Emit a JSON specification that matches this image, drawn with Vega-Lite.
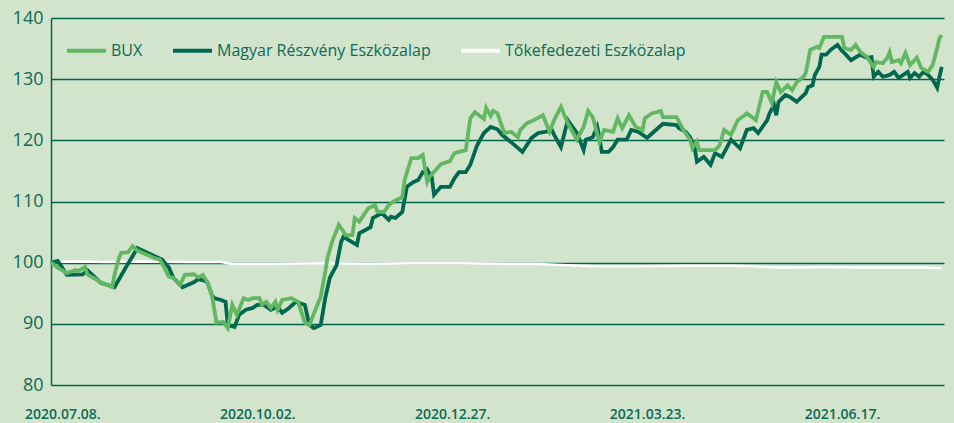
{
"$schema": "https://vega.github.io/schema/vega-lite/v6.json",
"width": 893, "height": 367,
"autosize": "none",
"padding": {"left": 51, "top": 18, "right": 10, "bottom": 38},
"background": "#d2e4cc",
"config": {"view": {"stroke": null}, "font": "Open Sans"},
"data": {"values": [
{"date":"2020-07-03","series":"BUX","value":100},
{"date":"2020-07-06","series":"BUX","value":99.2},
{"date":"2020-07-10","series":"BUX","value":98.3},
{"date":"2020-07-14","series":"BUX","value":98.8},
{"date":"2020-07-15","series":"BUX","value":98.6},
{"date":"2020-07-18","series":"BUX","value":99.3},
{"date":"2020-07-19","series":"BUX","value":98.1},
{"date":"2020-07-25","series":"BUX","value":96.8},
{"date":"2020-07-30","series":"BUX","value":96.0},
{"date":"2020-07-31","series":"BUX","value":98.0},
{"date":"2020-08-02","series":"BUX","value":100.8},
{"date":"2020-08-03","series":"BUX","value":101.6},
{"date":"2020-08-06","series":"BUX","value":101.7},
{"date":"2020-08-08","series":"BUX","value":102.7},
{"date":"2020-08-10","series":"BUX","value":102.0},
{"date":"2020-08-18","series":"BUX","value":100.7},
{"date":"2020-08-20","series":"BUX","value":100.5},
{"date":"2020-08-22","series":"BUX","value":99.2},
{"date":"2020-08-24","series":"BUX","value":97.7},
{"date":"2020-08-26","series":"BUX","value":97.5},
{"date":"2020-08-29","series":"BUX","value":96.4},
{"date":"2020-08-31","series":"BUX","value":98.0},
{"date":"2020-09-04","series":"BUX","value":98.1},
{"date":"2020-09-06","series":"BUX","value":97.6},
{"date":"2020-09-08","series":"BUX","value":98.0},
{"date":"2020-09-10","series":"BUX","value":96.8},
{"date":"2020-09-12","series":"BUX","value":94.7},
{"date":"2020-09-14","series":"BUX","value":90.2},
{"date":"2020-09-17","series":"BUX","value":90.3},
{"date":"2020-09-19","series":"BUX","value":89.3},
{"date":"2020-09-21","series":"BUX","value":93.1},
{"date":"2020-09-23","series":"BUX","value":91.5},
{"date":"2020-09-26","series":"BUX","value":94.2},
{"date":"2020-09-28","series":"BUX","value":93.9},
{"date":"2020-09-30","series":"BUX","value":94.2},
{"date":"2020-10-03","series":"BUX","value":94.2},
{"date":"2020-10-04","series":"BUX","value":93.1},
{"date":"2020-10-06","series":"BUX","value":93.6},
{"date":"2020-10-08","series":"BUX","value":92.6},
{"date":"2020-10-10","series":"BUX","value":93.6},
{"date":"2020-10-11","series":"BUX","value":92.3},
{"date":"2020-10-13","series":"BUX","value":93.9},
{"date":"2020-10-17","series":"BUX","value":94.2},
{"date":"2020-10-20","series":"BUX","value":93.6},
{"date":"2020-10-23","series":"BUX","value":90.2},
{"date":"2020-10-25","series":"BUX","value":89.8},
{"date":"2020-10-28","series":"BUX","value":92.6},
{"date":"2020-10-30","series":"BUX","value":94.4},
{"date":"2020-11-01","series":"BUX","value":98.5},
{"date":"2020-11-02","series":"BUX","value":100.8},
{"date":"2020-11-04","series":"BUX","value":103.4},
{"date":"2020-11-07","series":"BUX","value":106.2},
{"date":"2020-11-09","series":"BUX","value":105.1},
{"date":"2020-11-10","series":"BUX","value":104.5},
{"date":"2020-11-13","series":"BUX","value":104.5},
{"date":"2020-11-14","series":"BUX","value":107.3},
{"date":"2020-11-16","series":"BUX","value":106.7},
{"date":"2020-11-20","series":"BUX","value":108.9},
{"date":"2020-11-23","series":"BUX","value":109.4},
{"date":"2020-11-24","series":"BUX","value":108.3},
{"date":"2020-11-27","series":"BUX","value":108.3},
{"date":"2020-11-29","series":"BUX","value":109.4},
{"date":"2020-12-01","series":"BUX","value":110.0},
{"date":"2020-12-05","series":"BUX","value":110.7},
{"date":"2020-12-06","series":"BUX","value":113.5},
{"date":"2020-12-09","series":"BUX","value":117.1},
{"date":"2020-12-12","series":"BUX","value":117.1},
{"date":"2020-12-14","series":"BUX","value":117.6},
{"date":"2020-12-16","series":"BUX","value":113.2},
{"date":"2020-12-17","series":"BUX","value":114.0},
{"date":"2020-12-22","series":"BUX","value":116.1},
{"date":"2020-12-26","series":"BUX","value":116.6},
{"date":"2020-12-28","series":"BUX","value":117.9},
{"date":"2021-01-02","series":"BUX","value":118.4},
{"date":"2021-01-04","series":"BUX","value":123.6},
{"date":"2021-01-06","series":"BUX","value":124.6},
{"date":"2021-01-10","series":"BUX","value":123.5},
{"date":"2021-01-11","series":"BUX","value":125.3},
{"date":"2021-01-13","series":"BUX","value":124.0},
{"date":"2021-01-14","series":"BUX","value":124.8},
{"date":"2021-01-16","series":"BUX","value":124.4},
{"date":"2021-01-19","series":"BUX","value":121.2},
{"date":"2021-01-22","series":"BUX","value":121.4},
{"date":"2021-01-25","series":"BUX","value":120.5},
{"date":"2021-01-26","series":"BUX","value":121.7},
{"date":"2021-01-29","series":"BUX","value":122.8},
{"date":"2021-02-01","series":"BUX","value":123.3},
{"date":"2021-02-05","series":"BUX","value":124.1},
{"date":"2021-02-08","series":"BUX","value":121.4},
{"date":"2021-02-10","series":"BUX","value":123.3},
{"date":"2021-02-13","series":"BUX","value":125.5},
{"date":"2021-02-16","series":"BUX","value":122.8},
{"date":"2021-02-20","series":"BUX","value":120.1},
{"date":"2021-02-23","series":"BUX","value":122.2},
{"date":"2021-02-25","series":"BUX","value":124.8},
{"date":"2021-02-27","series":"BUX","value":123.8},
{"date":"2021-03-02","series":"BUX","value":119.7},
{"date":"2021-03-04","series":"BUX","value":121.7},
{"date":"2021-03-08","series":"BUX","value":121.4},
{"date":"2021-03-10","series":"BUX","value":123.6},
{"date":"2021-03-12","series":"BUX","value":122.0},
{"date":"2021-03-15","series":"BUX","value":124.1},
{"date":"2021-03-18","series":"BUX","value":122.2},
{"date":"2021-03-21","series":"BUX","value":121.7},
{"date":"2021-03-22","series":"BUX","value":123.6},
{"date":"2021-03-25","series":"BUX","value":124.4},
{"date":"2021-03-29","series":"BUX","value":124.8},
{"date":"2021-03-30","series":"BUX","value":123.8},
{"date":"2021-04-05","series":"BUX","value":123.8},
{"date":"2021-04-08","series":"BUX","value":121.7},
{"date":"2021-04-11","series":"BUX","value":120.1},
{"date":"2021-04-12","series":"BUX","value":118.7},
{"date":"2021-04-14","series":"BUX","value":119.8},
{"date":"2021-04-15","series":"BUX","value":118.4},
{"date":"2021-04-22","series":"BUX","value":118.4},
{"date":"2021-04-24","series":"BUX","value":119.2},
{"date":"2021-04-26","series":"BUX","value":121.7},
{"date":"2021-04-29","series":"BUX","value":120.9},
{"date":"2021-05-02","series":"BUX","value":123.3},
{"date":"2021-05-05","series":"BUX","value":124.1},
{"date":"2021-05-06","series":"BUX","value":124.4},
{"date":"2021-05-09","series":"BUX","value":123.6},
{"date":"2021-05-10","series":"BUX","value":123.3},
{"date":"2021-05-13","series":"BUX","value":127.9},
{"date":"2021-05-15","series":"BUX","value":127.9},
{"date":"2021-05-17","series":"BUX","value":126.1},
{"date":"2021-05-19","series":"BUX","value":129.5},
{"date":"2021-05-21","series":"BUX","value":127.9},
{"date":"2021-05-24","series":"BUX","value":129.0},
{"date":"2021-05-26","series":"BUX","value":128.2},
{"date":"2021-05-28","series":"BUX","value":129.5},
{"date":"2021-05-31","series":"BUX","value":130.4},
{"date":"2021-06-01","series":"BUX","value":131.0},
{"date":"2021-06-03","series":"BUX","value":134.8},
{"date":"2021-06-06","series":"BUX","value":135.3},
{"date":"2021-06-07","series":"BUX","value":135.1},
{"date":"2021-06-09","series":"BUX","value":136.9},
{"date":"2021-06-17","series":"BUX","value":136.9},
{"date":"2021-06-18","series":"BUX","value":135.1},
{"date":"2021-06-21","series":"BUX","value":134.8},
{"date":"2021-06-23","series":"BUX","value":135.6},
{"date":"2021-06-25","series":"BUX","value":134.5},
{"date":"2021-06-28","series":"BUX","value":133.6},
{"date":"2021-07-01","series":"BUX","value":132.0},
{"date":"2021-07-02","series":"BUX","value":132.8},
{"date":"2021-07-05","series":"BUX","value":132.6},
{"date":"2021-07-07","series":"BUX","value":133.5},
{"date":"2021-07-08","series":"BUX","value":134.4},
{"date":"2021-07-09","series":"BUX","value":132.8},
{"date":"2021-07-12","series":"BUX","value":133.1},
{"date":"2021-07-13","series":"BUX","value":132.6},
{"date":"2021-07-15","series":"BUX","value":134.3},
{"date":"2021-07-17","series":"BUX","value":132.3},
{"date":"2021-07-20","series":"BUX","value":133.5},
{"date":"2021-07-22","series":"BUX","value":131.8},
{"date":"2021-07-25","series":"BUX","value":131.2},
{"date":"2021-07-27","series":"BUX","value":132.3},
{"date":"2021-07-29","series":"BUX","value":135.1},
{"date":"2021-07-30","series":"BUX","value":136.7},
{"date":"2021-07-31","series":"BUX","value":137.2},
{"date":"2020-07-03","series":"Magyar Részvény Eszközalap","value":100},
{"date":"2020-07-06","series":"Magyar Részvény Eszközalap","value":100.3},
{"date":"2020-07-10","series":"Magyar Részvény Eszközalap","value":98.0},
{"date":"2020-07-17","series":"Magyar Részvény Eszközalap","value":98.1},
{"date":"2020-07-19","series":"Magyar Részvény Eszközalap","value":98.8},
{"date":"2020-07-25","series":"Magyar Részvény Eszközalap","value":96.7},
{"date":"2020-07-31","series":"Magyar Részvény Eszközalap","value":96.0},
{"date":"2020-08-05","series":"Magyar Részvény Eszközalap","value":99.2},
{"date":"2020-08-09","series":"Magyar Részvény Eszközalap","value":101.7},
{"date":"2020-08-10","series":"Magyar Részvény Eszközalap","value":102.4},
{"date":"2020-08-21","series":"Magyar Részvény Eszközalap","value":100.5},
{"date":"2020-08-24","series":"Magyar Részvény Eszközalap","value":99.2},
{"date":"2020-08-26","series":"Magyar Részvény Eszközalap","value":97.5},
{"date":"2020-08-30","series":"Magyar Részvény Eszközalap","value":96.0},
{"date":"2020-09-04","series":"Magyar Részvény Eszközalap","value":96.8},
{"date":"2020-09-06","series":"Magyar Részvény Eszközalap","value":97.3},
{"date":"2020-09-09","series":"Magyar Részvény Eszközalap","value":97.0},
{"date":"2020-09-10","series":"Magyar Részvény Eszközalap","value":96.8},
{"date":"2020-09-12","series":"Magyar Részvény Eszközalap","value":94.7},
{"date":"2020-09-13","series":"Magyar Részvény Eszközalap","value":94.2},
{"date":"2020-09-16","series":"Magyar Részvény Eszközalap","value":93.9},
{"date":"2020-09-18","series":"Magyar Részvény Eszközalap","value":93.6},
{"date":"2020-09-19","series":"Magyar Részvény Eszközalap","value":89.8},
{"date":"2020-09-22","series":"Magyar Részvény Eszközalap","value":89.5},
{"date":"2020-09-24","series":"Magyar Részvény Eszközalap","value":91.5},
{"date":"2020-09-27","series":"Magyar Részvény Eszközalap","value":92.3},
{"date":"2020-09-30","series":"Magyar Részvény Eszközalap","value":92.6},
{"date":"2020-10-02","series":"Magyar Részvény Eszközalap","value":93.1},
{"date":"2020-10-05","series":"Magyar Részvény Eszközalap","value":93.1},
{"date":"2020-10-08","series":"Magyar Részvény Eszközalap","value":92.3},
{"date":"2020-10-11","series":"Magyar Részvény Eszközalap","value":92.8},
{"date":"2020-10-13","series":"Magyar Részvény Eszközalap","value":91.8},
{"date":"2020-10-16","series":"Magyar Részvény Eszközalap","value":92.6},
{"date":"2020-10-19","series":"Magyar Részvény Eszközalap","value":93.6},
{"date":"2020-10-23","series":"Magyar Részvény Eszközalap","value":93.1},
{"date":"2020-10-25","series":"Magyar Részvény Eszközalap","value":89.8},
{"date":"2020-10-27","series":"Magyar Részvény Eszközalap","value":89.3},
{"date":"2020-10-30","series":"Magyar Részvény Eszközalap","value":89.8},
{"date":"2020-11-01","series":"Magyar Részvény Eszközalap","value":94.2},
{"date":"2020-11-03","series":"Magyar Részvény Eszközalap","value":97.5},
{"date":"2020-11-06","series":"Magyar Részvény Eszközalap","value":99.6},
{"date":"2020-11-08","series":"Magyar Részvény Eszközalap","value":103.4},
{"date":"2020-11-09","series":"Magyar Részvény Eszközalap","value":104.2},
{"date":"2020-11-15","series":"Magyar Részvény Eszközalap","value":102.9},
{"date":"2020-11-16","series":"Magyar Részvény Eszközalap","value":104.8},
{"date":"2020-11-21","series":"Magyar Részvény Eszközalap","value":105.8},
{"date":"2020-11-22","series":"Magyar Részvény Eszközalap","value":107.3},
{"date":"2020-11-26","series":"Magyar Részvény Eszközalap","value":108.1},
{"date":"2020-11-29","series":"Magyar Részvény Eszközalap","value":107.0},
{"date":"2020-11-30","series":"Magyar Részvény Eszközalap","value":107.5},
{"date":"2020-12-02","series":"Magyar Részvény Eszközalap","value":107.3},
{"date":"2020-12-05","series":"Magyar Részvény Eszközalap","value":108.3},
{"date":"2020-12-07","series":"Magyar Részvény Eszközalap","value":112.4},
{"date":"2020-12-10","series":"Magyar Részvény Eszközalap","value":113.2},
{"date":"2020-12-12","series":"Magyar Részvény Eszközalap","value":113.5},
{"date":"2020-12-14","series":"Magyar Részvény Eszközalap","value":114.8},
{"date":"2020-12-15","series":"Magyar Részvény Eszközalap","value":114.7},
{"date":"2020-12-16","series":"Magyar Részvény Eszközalap","value":115.2},
{"date":"2020-12-18","series":"Magyar Részvény Eszközalap","value":114.0},
{"date":"2020-12-19","series":"Magyar Részvény Eszközalap","value":111.1},
{"date":"2020-12-22","series":"Magyar Részvény Eszközalap","value":112.4},
{"date":"2020-12-26","series":"Magyar Részvény Eszközalap","value":112.4},
{"date":"2020-12-28","series":"Magyar Részvény Eszközalap","value":113.8},
{"date":"2020-12-30","series":"Magyar Részvény Eszközalap","value":114.8},
{"date":"2021-01-02","series":"Magyar Részvény Eszközalap","value":114.8},
{"date":"2021-01-04","series":"Magyar Részvény Eszközalap","value":116.0},
{"date":"2021-01-07","series":"Magyar Részvény Eszközalap","value":119.2},
{"date":"2021-01-10","series":"Magyar Részvény Eszközalap","value":121.2},
{"date":"2021-01-13","series":"Magyar Részvény Eszközalap","value":122.2},
{"date":"2021-01-16","series":"Magyar Részvény Eszközalap","value":121.8},
{"date":"2021-01-18","series":"Magyar Részvény Eszközalap","value":120.9},
{"date":"2021-01-22","series":"Magyar Részvény Eszközalap","value":119.7},
{"date":"2021-01-27","series":"Magyar Részvény Eszközalap","value":118.1},
{"date":"2021-01-31","series":"Magyar Részvény Eszközalap","value":120.4},
{"date":"2021-02-03","series":"Magyar Részvény Eszközalap","value":121.2},
{"date":"2021-02-06","series":"Magyar Részvény Eszközalap","value":121.4},
{"date":"2021-02-09","series":"Magyar Részvény Eszközalap","value":121.7},
{"date":"2021-02-10","series":"Magyar Részvény Eszközalap","value":120.9},
{"date":"2021-02-13","series":"Magyar Részvény Eszközalap","value":118.9},
{"date":"2021-02-16","series":"Magyar Részvény Eszközalap","value":123.3},
{"date":"2021-02-20","series":"Magyar Részvény Eszközalap","value":121.2},
{"date":"2021-02-23","series":"Magyar Részvény Eszközalap","value":118.4},
{"date":"2021-02-24","series":"Magyar Részvény Eszközalap","value":120.1},
{"date":"2021-02-27","series":"Magyar Részvény Eszközalap","value":120.5},
{"date":"2021-03-01","series":"Magyar Részvény Eszközalap","value":122.2},
{"date":"2021-03-02","series":"Magyar Részvény Eszközalap","value":120.4},
{"date":"2021-03-03","series":"Magyar Részvény Eszközalap","value":118.1},
{"date":"2021-03-06","series":"Magyar Részvény Eszközalap","value":118.1},
{"date":"2021-03-08","series":"Magyar Részvény Eszközalap","value":118.9},
{"date":"2021-03-10","series":"Magyar Részvény Eszközalap","value":120.1},
{"date":"2021-03-14","series":"Magyar Részvény Eszközalap","value":120.1},
{"date":"2021-03-16","series":"Magyar Részvény Eszközalap","value":121.7},
{"date":"2021-03-19","series":"Magyar Részvény Eszközalap","value":121.4},
{"date":"2021-03-23","series":"Magyar Részvény Eszközalap","value":120.4},
{"date":"2021-03-26","series":"Magyar Részvény Eszközalap","value":121.4},
{"date":"2021-03-30","series":"Magyar Részvény Eszközalap","value":122.7},
{"date":"2021-04-05","series":"Magyar Részvény Eszközalap","value":122.5},
{"date":"2021-04-06","series":"Magyar Részvény Eszközalap","value":122.0},
{"date":"2021-04-09","series":"Magyar Részvény Eszközalap","value":121.4},
{"date":"2021-04-11","series":"Magyar Részvény Eszközalap","value":120.5},
{"date":"2021-04-13","series":"Magyar Részvény Eszközalap","value":118.7},
{"date":"2021-04-14","series":"Magyar Részvény Eszközalap","value":116.5},
{"date":"2021-04-17","series":"Magyar Részvény Eszközalap","value":117.3},
{"date":"2021-04-20","series":"Magyar Részvény Eszközalap","value":116.0},
{"date":"2021-04-22","series":"Magyar Részvény Eszközalap","value":117.9},
{"date":"2021-04-25","series":"Magyar Részvény Eszközalap","value":117.3},
{"date":"2021-04-27","series":"Magyar Részvény Eszközalap","value":118.7},
{"date":"2021-04-29","series":"Magyar Részvény Eszközalap","value":120.1},
{"date":"2021-05-03","series":"Magyar Részvény Eszközalap","value":118.7},
{"date":"2021-05-06","series":"Magyar Részvény Eszközalap","value":121.7},
{"date":"2021-05-09","series":"Magyar Részvény Eszközalap","value":122.0},
{"date":"2021-05-11","series":"Magyar Részvény Eszközalap","value":121.2},
{"date":"2021-05-15","series":"Magyar Részvény Eszközalap","value":123.3},
{"date":"2021-05-16","series":"Magyar Részvény Eszközalap","value":124.4},
{"date":"2021-05-18","series":"Magyar Részvény Eszközalap","value":125.8},
{"date":"2021-05-19","series":"Magyar Részvény Eszközalap","value":124.1},
{"date":"2021-05-20","series":"Magyar Részvény Eszközalap","value":126.3},
{"date":"2021-05-23","series":"Magyar Részvény Eszközalap","value":127.4},
{"date":"2021-05-25","series":"Magyar Részvény Eszközalap","value":127.1},
{"date":"2021-05-28","series":"Magyar Részvény Eszközalap","value":126.3},
{"date":"2021-06-01","series":"Magyar Részvény Eszközalap","value":127.7},
{"date":"2021-06-02","series":"Magyar Részvény Eszközalap","value":128.7},
{"date":"2021-06-04","series":"Magyar Részvény Eszközalap","value":129.0},
{"date":"2021-06-05","series":"Magyar Részvény Eszközalap","value":130.7},
{"date":"2021-06-07","series":"Magyar Részvény Eszközalap","value":132.0},
{"date":"2021-06-08","series":"Magyar Részvény Eszközalap","value":134.0},
{"date":"2021-06-10","series":"Magyar Részvény Eszközalap","value":134.0},
{"date":"2021-06-12","series":"Magyar Részvény Eszközalap","value":134.8},
{"date":"2021-06-15","series":"Magyar Részvény Eszközalap","value":135.6},
{"date":"2021-06-17","series":"Magyar Részvény Eszközalap","value":134.6},
{"date":"2021-06-18","series":"Magyar Részvény Eszközalap","value":134.3},
{"date":"2021-06-21","series":"Magyar Részvény Eszközalap","value":133.1},
{"date":"2021-06-25","series":"Magyar Részvény Eszközalap","value":134.0},
{"date":"2021-06-28","series":"Magyar Részvény Eszközalap","value":133.5},
{"date":"2021-06-30","series":"Magyar Részvény Eszközalap","value":133.6},
{"date":"2021-07-01","series":"Magyar Részvény Eszközalap","value":130.4},
{"date":"2021-07-03","series":"Magyar Részvény Eszközalap","value":131.2},
{"date":"2021-07-05","series":"Magyar Részvény Eszközalap","value":130.4},
{"date":"2021-07-08","series":"Magyar Részvény Eszközalap","value":130.7},
{"date":"2021-07-10","series":"Magyar Részvény Eszközalap","value":131.2},
{"date":"2021-07-12","series":"Magyar Részvény Eszközalap","value":130.2},
{"date":"2021-07-16","series":"Magyar Részvény Eszközalap","value":131.2},
{"date":"2021-07-17","series":"Magyar Részvény Eszközalap","value":130.2},
{"date":"2021-07-19","series":"Magyar Részvény Eszközalap","value":131.0},
{"date":"2021-07-21","series":"Magyar Részvény Eszközalap","value":130.4},
{"date":"2021-07-23","series":"Magyar Részvény Eszközalap","value":131.2},
{"date":"2021-07-25","series":"Magyar Részvény Eszközalap","value":130.7},
{"date":"2021-07-27","series":"Magyar Részvény Eszközalap","value":129.9},
{"date":"2021-07-29","series":"Magyar Részvény Eszközalap","value":128.6},
{"date":"2021-07-30","series":"Magyar Részvény Eszközalap","value":130.4},
{"date":"2021-07-31","series":"Magyar Részvény Eszközalap","value":132.0},
{"date":"2020-07-03","series":"Tőkefedezeti Eszközalap","value":100.1},
{"date":"2020-07-13","series":"Tőkefedezeti Eszközalap","value":100.2},
{"date":"2020-07-28","series":"Tőkefedezeti Eszközalap","value":100.1},
{"date":"2020-08-12","series":"Tőkefedezeti Eszközalap","value":100.2},
{"date":"2020-09-01","series":"Tőkefedezeti Eszközalap","value":100.1},
{"date":"2020-09-16","series":"Tőkefedezeti Eszközalap","value":100.1},
{"date":"2020-09-21","series":"Tőkefedezeti Eszközalap","value":99.8},
{"date":"2020-10-11","series":"Tőkefedezeti Eszközalap","value":99.8},
{"date":"2020-10-31","series":"Tőkefedezeti Eszközalap","value":99.9},
{"date":"2020-11-20","series":"Tőkefedezeti Eszközalap","value":99.8},
{"date":"2020-12-10","series":"Tőkefedezeti Eszközalap","value":99.9},
{"date":"2020-12-30","series":"Tőkefedezeti Eszközalap","value":99.9},
{"date":"2021-01-19","series":"Tőkefedezeti Eszközalap","value":99.8},
{"date":"2021-02-03","series":"Tőkefedezeti Eszközalap","value":99.8},
{"date":"2021-02-13","series":"Tőkefedezeti Eszközalap","value":99.6},
{"date":"2021-02-28","series":"Tőkefedezeti Eszközalap","value":99.4},
{"date":"2021-03-20","series":"Tőkefedezeti Eszközalap","value":99.4},
{"date":"2021-04-09","series":"Tőkefedezeti Eszközalap","value":99.5},
{"date":"2021-04-29","series":"Tőkefedezeti Eszközalap","value":99.5},
{"date":"2021-05-09","series":"Tőkefedezeti Eszközalap","value":99.4},
{"date":"2021-05-19","series":"Tőkefedezeti Eszközalap","value":99.2},
{"date":"2021-05-29","series":"Tőkefedezeti Eszközalap","value":99.2},
{"date":"2021-06-08","series":"Tőkefedezeti Eszközalap","value":99.3},
{"date":"2021-06-23","series":"Tőkefedezeti Eszközalap","value":99.2},
{"date":"2021-07-08","series":"Tőkefedezeti Eszközalap","value":99.2},
{"date":"2021-07-23","series":"Tőkefedezeti Eszközalap","value":99.2},
{"date":"2021-07-31","series":"Tőkefedezeti Eszközalap","value":99.1}
]},
"encoding": {
  "x": {"field": "date", "type": "temporal",
    "scale": {"type": "utc", "domain": [{"year": 2020, "month": 7, "date": 3, "utc": true}, {"year": 2021, "month": 8, "date": 1, "utc": true}]},
    "axis": {"title": null, "grid": false, "domain": false, "ticks": false,
      "values": [{"year": 2020, "month": 7, "date": 8, "utc": true}, {"year": 2020, "month": 10, "date": 2, "utc": true}, {"year": 2020, "month": 12, "date": 27, "utc": true}, {"year": 2021, "month": 3, "date": 23, "utc": true}, {"year": 2021, "month": 6, "date": 17, "utc": true}],
      "labelExpr": "utcFormat(datum.value, '%Y.%m.%d.')",
      "labelFontSize": 14, "labelFontWeight": 600, "labelColor": "#0d6a55", "labelPadding": 22, "labelFlush": false}},
  "y": {"field": "value", "type": "quantitative",
    "scale": {"domain": [80, 140], "nice": false, "zero": false},
    "axis": {"title": null, "values": [80, 90, 100, 110, 120, 130, 140], "grid": true, "gridColor": "#00654b", "gridWidth": 1.5,
      "domain": true, "domainColor": "#00654b", "domainWidth": 1.5, "ticks": false,
      "labelFontSize": 18, "labelColor": "#0d6a55", "labelPadding": 8}},
  "color": {"field": "series", "type": "nominal",
    "scale": {"domain": ["BUX", "Magyar Részvény Eszközalap", "Tőkefedezeti Eszközalap"], "range": ["#62b862", "#00684e", "#ffffff"]},
    "legend": {"title": null, "orient": "none", "legendX": 14, "legendY": 11, "direction": "horizontal",
      "symbolType": "stroke", "symbolStrokeWidth": 4, "symbolSize": 1521, "labelFontSize": 16, "labelColor": "#0d6a55",
      "labelOffset": 3, "columnPadding": 22, "labelLimit": 0}}
},
"layer": [
  {"transform": [{"filter": "datum.series === 'Tőkefedezeti Eszközalap'"}], "mark": {"type": "line", "strokeWidth": 2.5}},
  {"transform": [{"filter": "datum.series === 'Magyar Részvény Eszközalap'"}], "mark": {"type": "line", "strokeWidth": 3.8}},
  {"transform": [{"filter": "datum.series === 'BUX'"}], "mark": {"type": "line", "strokeWidth": 3.8}}
]
}
